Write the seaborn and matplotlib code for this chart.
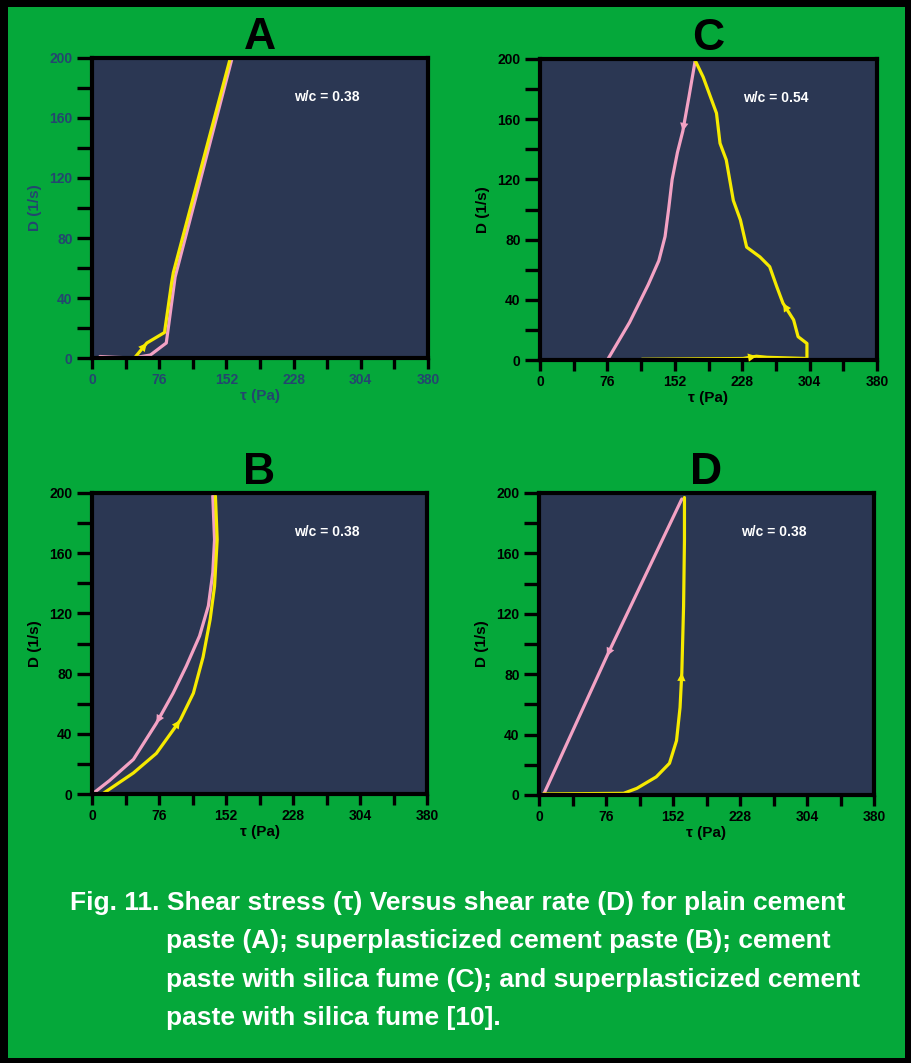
import matplotlib
matplotlib.use("Agg")
import matplotlib.pyplot as plt
import seaborn as sns
import pandas as pd
from matplotlib.ticker import MultipleLocator
from matplotlib.patches import Rectangle

# ---- data (tau in Pa, D in 1/s) ----
panel_names = ["A", "C", "B", "D"]
wc_labels = ["w/c = 0.38", "w/c = 0.54", "w/c = 0.38", "w/c = 0.38"]

# A: plain cement paste
a_up_tau = [48, 62, 82, 90, 92, 156]
a_up_D = [0, 10, 17, 50, 57, 199]
a_down_tau = [158, 94, 84, 66, 46, 25, 9]
a_down_D = [199, 54, 10, 2, 0, 0.5, 1]

# C: cement paste with silica fume
c_up_tau = [115, 229, 244, 256, 301, 301, 291, 286, 274, 267, 259, 248, 233,
            226, 218, 210, 203, 199, 184, 175]
c_up_D = [0.5, 1, 2.5, 1.8, 1, 11, 15.5, 26.6, 37.7, 48.7, 62, 68.5, 75,
          93, 106, 133, 144, 164, 188, 199]
c_down_tau = [175, 168, 161, 155, 149, 145, 141, 134, 122, 101, 76]
c_down_D = [199, 175, 152, 138, 120, 100, 82, 66, 50, 25, 0]

# B: superplasticized cement paste
b_up_tau = [13, 47, 73, 100, 115, 126, 134, 139, 142, 140]
b_up_D = [0.5, 14, 27, 49, 67, 91, 116, 138, 169, 198]
b_down_tau = [137, 139, 137, 132, 122, 107, 92, 73, 47, 20, 1.5]
b_down_D = [198, 169, 147, 125, 105, 85, 67, 47, 23, 9, 0.5]

# D: superplasticized cement paste with silica fume
d_up_tau = [5, 96, 111, 133, 148, 156, 160, 162, 164, 165, 165]
d_up_D = [0.7, 1.1, 4.4, 12, 21, 36, 58, 81, 125, 169, 197]
d_down_tau = [162, 77, 5]
d_down_D = [196, 92, 0]

# point on each curve that carries a direction arrow head (None = no arrow)
arrow_up = [[1], [2, 8], [3], [7]]
arrow_down = [[], [2], [7], [1]]

ups = [(a_up_tau, a_up_D), (c_up_tau, c_up_D), (b_up_tau, b_up_D), (d_up_tau, d_up_D)]
downs = [(a_down_tau, a_down_D), (c_down_tau, c_down_D), (b_down_tau, b_down_D), (d_down_tau, d_down_D)]

x_major = 76
y_major = 40

caption = [
    "Fig. 11. Shear stress (\u03c4) Versus shear rate (D) for plain cement",
    "paste (A); superplasticized cement paste (B); cement",
    "paste with silica fume (C); and superplasticized cement",
    "paste with silica fume [10].",
]

# ---- style ----
sns.set_theme(style="ticks")
plt.rcParams["font.family"] = ["Liberation Sans", "DejaVu Sans"]

GREEN = "#05a83a"
NAVY = "#2b3753"
YELLOW = "#f6ea00"
PINK = "#f3a2c4"

fig = plt.figure(figsize=(9.11, 10.63), dpi=100, facecolor="black")
bg = Rectangle((8 / 911, 5 / 1063), 897 / 911, 1051 / 1063,
               transform=fig.transFigure, facecolor=GREEN,
               edgecolor="none", zorder=-10)
fig.patches.append(bg)

rects = [
    [92 / 911, 1 - 358 / 1063, 336 / 911, 300 / 1063],
    [540 / 911, 1 - 360 / 1063, 337 / 911, 301 / 1063],
    [92 / 911, 1 - 794 / 1063, 335 / 911, 301 / 1063],
    [539 / 911, 1 - 795 / 1063, 335 / 911, 302 / 1063],
]
text_colors = ["#24466f", "black", "black", "black"]


def draw_arrows(ax, xs, ys, idx, color):
    # arrow head sits on point i, pointing away from point i-1
    for i in idx:
        ax.annotate("", xy=(xs[i], ys[i]), xytext=(xs[i - 1], ys[i - 1]),
                    arrowprops=dict(arrowstyle="-|>", color=color, lw=0,
                                    mutation_scale=15, shrinkA=0, shrinkB=0),
                    zorder=5)


for k in range(4):
    ax = fig.add_axes(rects[k])
    ax.set_facecolor(NAVY)
    tc = text_colors[k]

    dn = pd.DataFrame({"tau": downs[k][0], "D": downs[k][1]})
    up = pd.DataFrame({"tau": ups[k][0], "D": ups[k][1]})
    sns.lineplot(data=dn, x="tau", y="D", sort=False, estimator=None,
                 color=PINK, lw=2.3, ax=ax)
    sns.lineplot(data=up, x="tau", y="D", sort=False, estimator=None,
                 color=YELLOW, lw=2.3, ax=ax)
    draw_arrows(ax, ups[k][0], ups[k][1], arrow_up[k], YELLOW)
    draw_arrows(ax, downs[k][0], downs[k][1], arrow_down[k], PINK)

    ax.set_xlim(0, 380)
    ax.set_ylim(0, 200)
    ax.xaxis.set_major_locator(MultipleLocator(x_major))
    ax.xaxis.set_minor_locator(MultipleLocator(x_major / 2))
    ax.yaxis.set_major_locator(MultipleLocator(y_major))
    ax.yaxis.set_minor_locator(MultipleLocator(y_major / 2))
    ax.tick_params(which="both", direction="out", color="black", width=2.4)
    ax.tick_params(axis="y", which="both", length=11, pad=3)
    ax.tick_params(axis="x", which="both", length=8, pad=3)
    ax.tick_params(which="major", labelsize=10, labelcolor=tc)
    for lab in ax.get_xticklabels() + ax.get_yticklabels():
        lab.set_fontweight("bold")
    for sp in ax.spines.values():
        sp.set_visible(True)
        sp.set_color("black")
        sp.set_linewidth(3)

    ax.set_xlabel("\u03c4 (Pa)", fontsize=11, color=tc, labelpad=1,
                  fontweight="bold")
    ax.set_ylabel("D (1/s)", fontsize=11, color=tc, labelpad=5,
                  fontweight="bold")
    ax.set_title(panel_names[k], fontsize=32, fontweight="bold",
                 color="black", pad=6)
    ax.text(0.70, 0.87, wc_labels[k], transform=ax.transAxes, color="white",
            fontsize=10, fontweight="bold", ha="center", va="center")

# caption
line_y = [903, 941, 980, 1018]
for i, line in enumerate(caption):
    x0 = 70 if i == 0 else 166
    fig.text(x0 / 911, 1 - line_y[i] / 1063, line, color="white", fontsize=19,
             fontweight="bold", ha="left", va="center")

fig.savefig("out.png", dpi=100, facecolor=fig.get_facecolor())
